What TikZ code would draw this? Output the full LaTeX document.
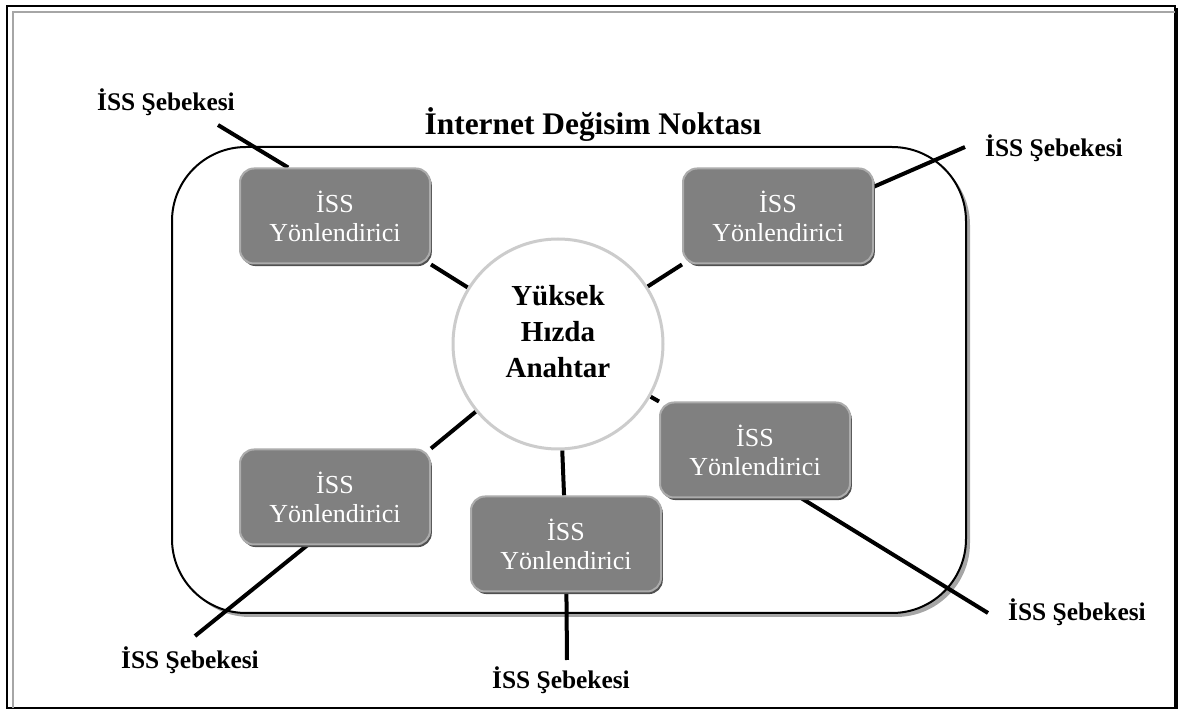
\documentclass[tikz,border=0pt]{standalone}
\usepackage{fontspec}
\setmainfont{Liberation Serif}
\usetikzlibrary{shadows}
\pgfdeclarelayer{fondo}
\pgfdeclarelayer{lineas}
\pgfsetlayers{fondo,lineas,main}
\definecolor{gris}{RGB}{128,128,128}
\definecolor{grisborde}{RGB}{172,172,172}
\definecolor{grissombra}{RGB}{80,80,80}

\begin{document}
\begin{tikzpicture}[   % coordenadas en pixeles, y hacia abajo
    x=0.5pt, y=-0.5pt,
    line width=2pt,
    font=\fontsize{13}{14.5}\selectfont
  ]
  \tikzstyle{router}=[rectangle, rounded corners=7pt, fill=gris, draw=grisborde,
    line width=1pt, minimum width=95pt, minimum height=47.5pt, text=white,
    align=center, inner sep=2pt,
    drop shadow={shadow xshift=0.9pt, shadow yshift=-1.3pt, fill=grissombra, opacity=1}];
  \tikzstyle{isslabel}=[font=\bfseries\fontsize{12.7}{14}\selectfont, inner sep=0pt];
  \tikzstyle{link}=[line width=2pt, draw=black];
  %
  \useasboundingbox (0,0) rectangle (1180,711);
  %
  % marco exterior y recuadro del punto de intercambio
  \begin{pgfonlayer}{fondo}
    \draw[line width=1pt] (7,6) rectangle (1175,708);
    \draw[gris!70, line width=1pt] (13,708) -- (13,12) -- (1175,12);
    \draw[line width=0.8pt] (1177,8) -- (1177,709);
    \fill[gray!70, rounded corners=37pt] (176,151) rectangle (970,617);
    \draw[fill=white, line width=1pt, rounded corners=37pt] (172,147) rectangle (966,613);
  \end{pgfonlayer}
  %
  % titulo
  \node[font=\bfseries\fontsize{15.7}{18}\selectfont] (titulo) at (593,125) {İnternet Değisim Noktası};
  %
  % conmutador central
  \node[circle, draw=gray!40, line width=1.5pt, fill=white,
    minimum size=105pt, inner sep=0pt] (sw) at (558,344) {};
  \node[font=\bfseries\fontsize{14.5}{18}\selectfont, align=center] (swtxt) at (558,332)
    {Yüksek\\Hızda\\Anahtar};
  %
  % enrutadores
  \node[router] (r1) at (335,216) {İSS\\Yönlendirici};
  \node[router] (r2) at (778,216) {İSS\\Yönlendirici};
  \node[router] (r3) at (335,497) {İSS\\Yönlendirici};
  \node[router] (r4) at (566,544) {İSS\\Yönlendirici};
  \node[router] (r5) at (755,450) {İSS\\Yönlendirici};
  %
  % redes externas
  \node[isslabel] (n1) at (166,102)  {İSS Şebekesi};
  \node[isslabel] (n2) at (1054,148) {İSS Şebekesi};
  \node[isslabel] (n3) at (190,660)  {İSS Şebekesi};
  \node[isslabel] (n4) at (561,680)  {İSS Şebekesi};
  \node[isslabel] (n5) at (1077,612) {İSS Şebekesi};
  \coordinate (c1) at (218,125);
  \coordinate (c2) at (965,147);
  \coordinate (c3) at (195,636);
  \coordinate (c4) at (567,660);
  \coordinate (c5) at (988,613);
  %
  % conexiones red - enrutador - conmutador
  \begin{pgfonlayer}{lineas}
    \draw[link] (c1) -- (r1.134);
    \draw[link] (r1.south east) -- (sw);
    \draw[link] (c2) -- (r2.17);
    \draw[link] (r2.south west) -- (sw);
    \draw[link] (c3) -- (r3.240);
    \draw[link] (r3.north east) -- (sw);
    \draw[link] (c4) -- (r4);
    \draw[link] (r4) -- (sw);
    \draw[link] (c5) -- (r5.314);
    \draw[link] (r5.north west) -- (sw);
  \end{pgfonlayer}
\end{tikzpicture}
\end{document}
